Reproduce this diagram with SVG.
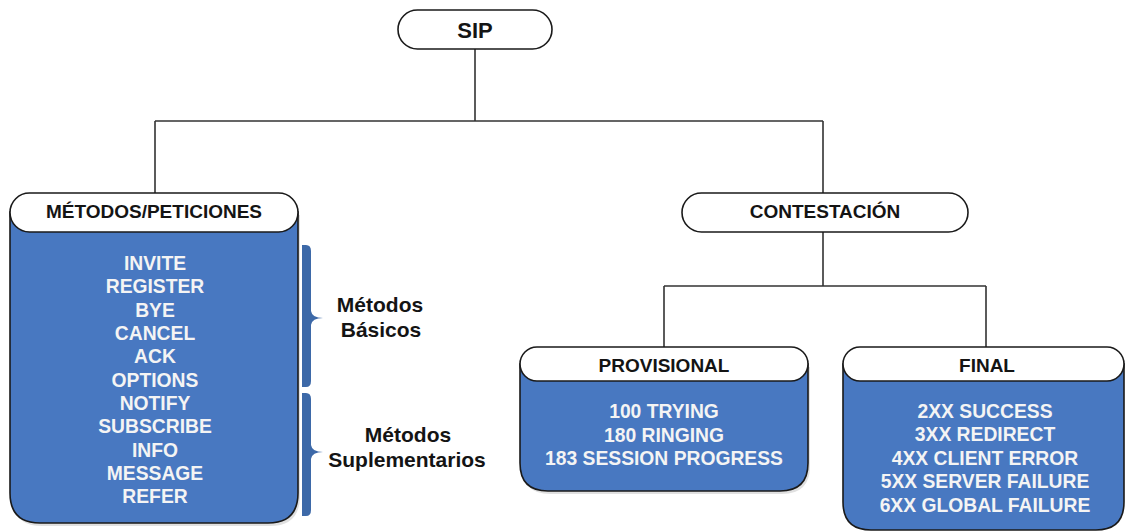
<svg xmlns="http://www.w3.org/2000/svg" width="1125" height="532" viewBox="0 0 1125 532">
<style>
.pill{fill:#ffffff;stroke:#1a1a1a;stroke-width:1.6}
.body{fill:#4878c1;stroke:#1a1a1a;stroke-width:1.6}
.shadow{fill:#000000;opacity:0.12}
.hdr{font-family:"Liberation Sans",Arial,sans-serif;font-weight:bold;font-size:19px;fill:#141414;text-anchor:middle}
.big{font-size:22px}
.item{font-family:"Liberation Sans",Arial,sans-serif;font-weight:bold;font-size:19.3px;fill:#f4f4f4;text-anchor:middle}
.lbl{font-family:"Liberation Sans",Arial,sans-serif;font-weight:bold;font-size:21px;fill:#141414;text-anchor:middle}
.brace{fill:#3d69a8}
.conn{fill:none;stroke:#333333;stroke-width:1.6}
</style>
<rect width="1125" height="532" fill="#ffffff"/>
<g id="connectors">
<path class="conn" d="M475,49 V121 M155,121 H823 M155,121 V193 M823,121 V193 M823,232 V286 M664,286 H986 M664,286 V347 M986,286 V347"/>
</g>
<g id="sip">
<rect class="pill" x="398" y="10" width="154" height="39" rx="19.5"/>
<text class="hdr big" x="475" y="37.5">SIP</text>
</g>
<g id="metodos">
<path class="shadow" d="M12,215 L12,496 Q12,526 42,526 L270,526 Q300,526 300,496 L300,215 Z"/>
<path class="body" d="M10,212 L10,493 Q10,523 40,523 L268,523 Q298,523 298,493 L298,212 Z"/>
<rect class="pill" x="10" y="193" width="288" height="39" rx="19.5"/>
<text class="hdr" x="154" y="218">MÉTODOS/PETICIONES</text>
<text class="item" x="155" y="270">INVITE</text>
<text class="item" x="155" y="293">REGISTER</text>
<text class="item" x="155" y="316.5">BYE</text>
<text class="item" x="155" y="340">CANCEL</text>
<text class="item" x="155" y="363">ACK</text>
<text class="item" x="155" y="386.5">OPTIONS</text>
<text class="item" x="155" y="410">NOTIFY</text>
<text class="item" x="155" y="433">SUBSCRIBE</text>
<text class="item" x="155" y="456.5">INFO</text>
<text class="item" x="155" y="480">MESSAGE</text>
<text class="item" x="155" y="503">REFER</text>
</g>
<g id="basicos">
<path class="brace" d="M302,245 L306,245 Q311,245 311,251 L311,311 Q312,318 323,318 Q312,318 311,325 L311,381 Q311,387 306,387 L302,387 Z"/>
<text class="lbl" x="380" y="312">Métodos</text>
<text class="lbl" x="381" y="337">Básicos</text>
</g>
<g id="suplementarios">
<path class="brace" d="M302,393 L306,393 Q311,393 311,399 L311,445 Q312,452 323,452 Q312,452 311,459 L311,510 Q311,516 306,516 L302,516 Z"/>
<text class="lbl" x="408" y="442">Métodos</text>
<text class="lbl" x="407" y="467">Suplementarios</text>
</g>
<g id="contestacion">
<rect class="pill" x="682" y="193" width="286" height="39" rx="19.5"/>
<text class="hdr" x="825" y="218">CONTESTACIÓN</text>
</g>
<g id="provisional">
<path class="shadow" d="M522,367 L522,466 Q522,494 550,494 L782,494 Q810,494 810,466 L810,367 Z"/>
<path class="body" d="M520,364 L520,463 Q520,491 548,491 L780,491 Q808,491 808,463 L808,364 Z"/>
<rect class="pill" x="520" y="347" width="288" height="34" rx="17"/>
<text class="hdr" x="664" y="372">PROVISIONAL</text>
<text class="item" x="664" y="418">100 TRYING</text>
<text class="item" x="664" y="442">180 RINGING</text>
<text class="item" x="664" y="465">183 SESSION PROGRESS</text>
</g>
<g id="final">
<path class="body" d="M843,364 L843,502 Q843,530 871,530 L1096,530 Q1124,530 1124,502 L1124,364 Z"/>
<rect class="pill" x="843" y="347" width="281" height="34" rx="17"/>
<text class="hdr" x="987" y="372">FINAL</text>
<text class="item" x="985" y="418">2XX SUCCESS</text>
<text class="item" x="985" y="441">3XX REDIRECT</text>
<text class="item" x="985" y="465">4XX CLIENT ERROR</text>
<text class="item" x="985" y="488">5XX SERVER FAILURE</text>
<text class="item" x="985" y="512">6XX GLOBAL FAILURE</text>
</g>
</svg>
